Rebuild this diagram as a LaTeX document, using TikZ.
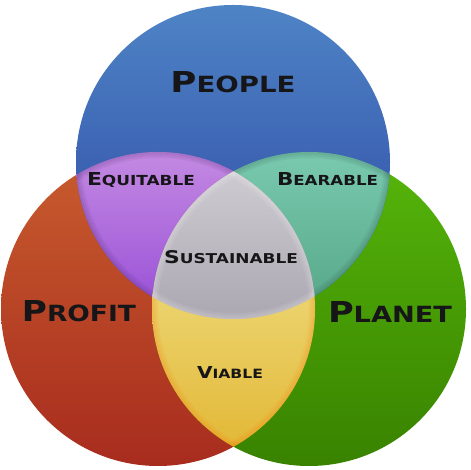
\documentclass[tikz,border=0pt]{standalone}
\usepackage{fontspec}
\setmainfont{DejaVu Sans}
\usepackage{graphicx}
\definecolor{blueT}{RGB}{78,132,198}
\definecolor{blueB}{RGB}{44,68,160}
\definecolor{redT}{RGB}{200,92,46}
\definecolor{redB}{RGB}{168,44,30}
\definecolor{greenT}{RGB}{86,182,10}
\definecolor{greenB}{RGB}{56,130,0}
\definecolor{purT}{RGB}{196,138,226}
\definecolor{purB}{RGB}{150,76,214}
\definecolor{tealT}{RGB}{122,202,176}
\definecolor{tealB}{RGB}{84,164,134}
\definecolor{grayT}{RGB}{208,206,212}
\definecolor{grayB}{RGB}{170,166,176}
\definecolor{yelT}{RGB}{236,212,112}
\definecolor{yelB}{RGB}{226,184,54}
\definecolor{ink}{RGB}{22,22,24}
\newcommand\fsc[2]{{\fontsize{20}{20}\selectfont\bfseries #1}{\fontsize{15.5}{15.5}\selectfont\bfseries #2}}
\newcommand\softrim[2]{%
  \foreach \w in {12,8,4}{\draw[line width=\w pt, draw=#1, opacity=0.08] #2;}}
\tikzset{
  lab/.style={inner sep=0pt, anchor=base, text=ink},
}
\begin{document}
\begin{tikzpicture}[x=1pt,y=1pt]
\useasboundingbox (0,0) rectangle (470,470);
\def\R{157}
\coordinate (cb) at (233,308);
\coordinate (cr) at (158,161);
\coordinate (cg) at (309,161);
% base circles
\shade[top color=redT, bottom color=redB] (cr) circle[radius=\R];
\shade[top color=greenT, bottom color=greenB] (cg) circle[radius=\R];
\shade[top color=blueT, bottom color=blueB] (cb) circle[radius=\R];
% purple: blue & red
\begin{scope}
  \clip (cb) circle[radius=\R];
  \clip (cr) circle[radius=\R];
  \shade[top color=purT, bottom color=purB] (60,150) rectangle (245,320);
  \softrim{purB!50!black}{(cb) circle[radius=\R]}
  \softrim{purB!50!black}{(cr) circle[radius=\R]}
\end{scope}
% teal: blue & green
\begin{scope}
  \clip (cb) circle[radius=\R];
  \clip (cg) circle[radius=\R];
  \shade[top color=tealT, bottom color=tealB] (220,150) rectangle (410,320);
  \softrim{tealB!50!black}{(cb) circle[radius=\R]}
  \softrim{tealB!50!black}{(cg) circle[radius=\R]}
\end{scope}
% yellow: red & green
\begin{scope}
  \clip (cr) circle[radius=\R];
  \clip (cg) circle[radius=\R];
  \shade[top color=yelT, bottom color=yelB] (140,20) rectangle (325,180);
  \softrim{orange!90!red}{(cr) circle[radius=\R]}
  \softrim{orange!90!red}{(cg) circle[radius=\R]}
\end{scope}
% gray: all three
\begin{scope}
  \clip (cb) circle[radius=\R];
  \clip (cr) circle[radius=\R];
  \clip (cg) circle[radius=\R];
  \shade[top color=grayT, bottom color=grayB] (140,145) rectangle (325,310);
  \softrim{white}{(cb) circle[radius=\R]}
  \softrim{white}{(cr) circle[radius=\R]}
  \softrim{white}{(cg) circle[radius=\R]}
\end{scope}
% labels
\node[lab] (people) at (233,377) {\resizebox{125pt}{21pt}{\fsc{P}{EOPLE}}};
\node[lab] (profit) at (79,148) {\resizebox{114pt}{21pt}{\fsc{P}{ROFIT}}};
\node[lab] (planet) at (390,147) {\resizebox{124pt}{21pt}{\fsc{P}{LANET}}};
\node[lab] (equitable) at (141,284) {\resizebox{108pt}{13pt}{\fsc{E}{QUITABLE}}};
\node[lab] (bearable) at (327.5,284) {\resizebox{101pt}{13pt}{\fsc{B}{EARABLE}}};
\node[lab] (sustainable) at (231,206) {\resizebox{134pt}{13pt}{\fsc{S}{USTAINABLE}}};
\node[lab] (viable) at (230,91) {\resizebox{66pt}{12pt}{\fsc{V}{IABLE}}};
\end{tikzpicture}
\end{document}
